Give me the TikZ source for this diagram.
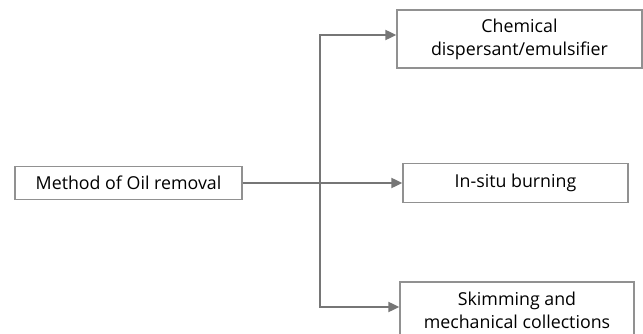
\documentclass[tikz,border=0pt]{standalone}
\usepackage{fontspec}
\setmainfont{Open Sans}
\usetikzlibrary{arrows.meta}
\definecolor{linegray}{RGB}{118,118,118}
\definecolor{boxgray}{RGB}{145,145,145}
\tikzstyle{box} = [draw=boxgray, line width=1.3pt, inner sep=0pt, align=center, font=\fontsize{17.8}{23}\selectfont]
\tikzstyle{link} = [draw=linegray, line width=2pt]

\begin{document}
\begin{tikzpicture}[x=1pt,y=-1pt,>={Triangle[length=11pt,width=10pt]}]
	\useasboundingbox (0,0) rectangle (643,334);
	\clip (0,0) rectangle (643,334);
	% boxes
	\node[box, minimum width=227pt, minimum height=33pt] (method) at (128.5,183) {Method of Oil removal};
	\node[box, minimum width=245pt, minimum height=58pt] (chemical) at (519.5,39) {Chemical\\dispersant/emulsifier};
	\node[box, minimum width=225pt, minimum height=39pt] (burning) at (515.5,183) {In-situ burning};
	\node[box, minimum width=234pt, minimum height=56pt] (skimming) at (517,310) {Skimming and\\mechanical collections};
	\coordinate (split) at (320,183);
	% connectors
	\draw[link,->] (method) -- (burning);
	\draw[link,->] (split) |- ([yshift=4pt]chemical.west);
	\draw[link,->] (split) |- ([yshift=3pt]skimming.west);
\end{tikzpicture}
\end{document}
